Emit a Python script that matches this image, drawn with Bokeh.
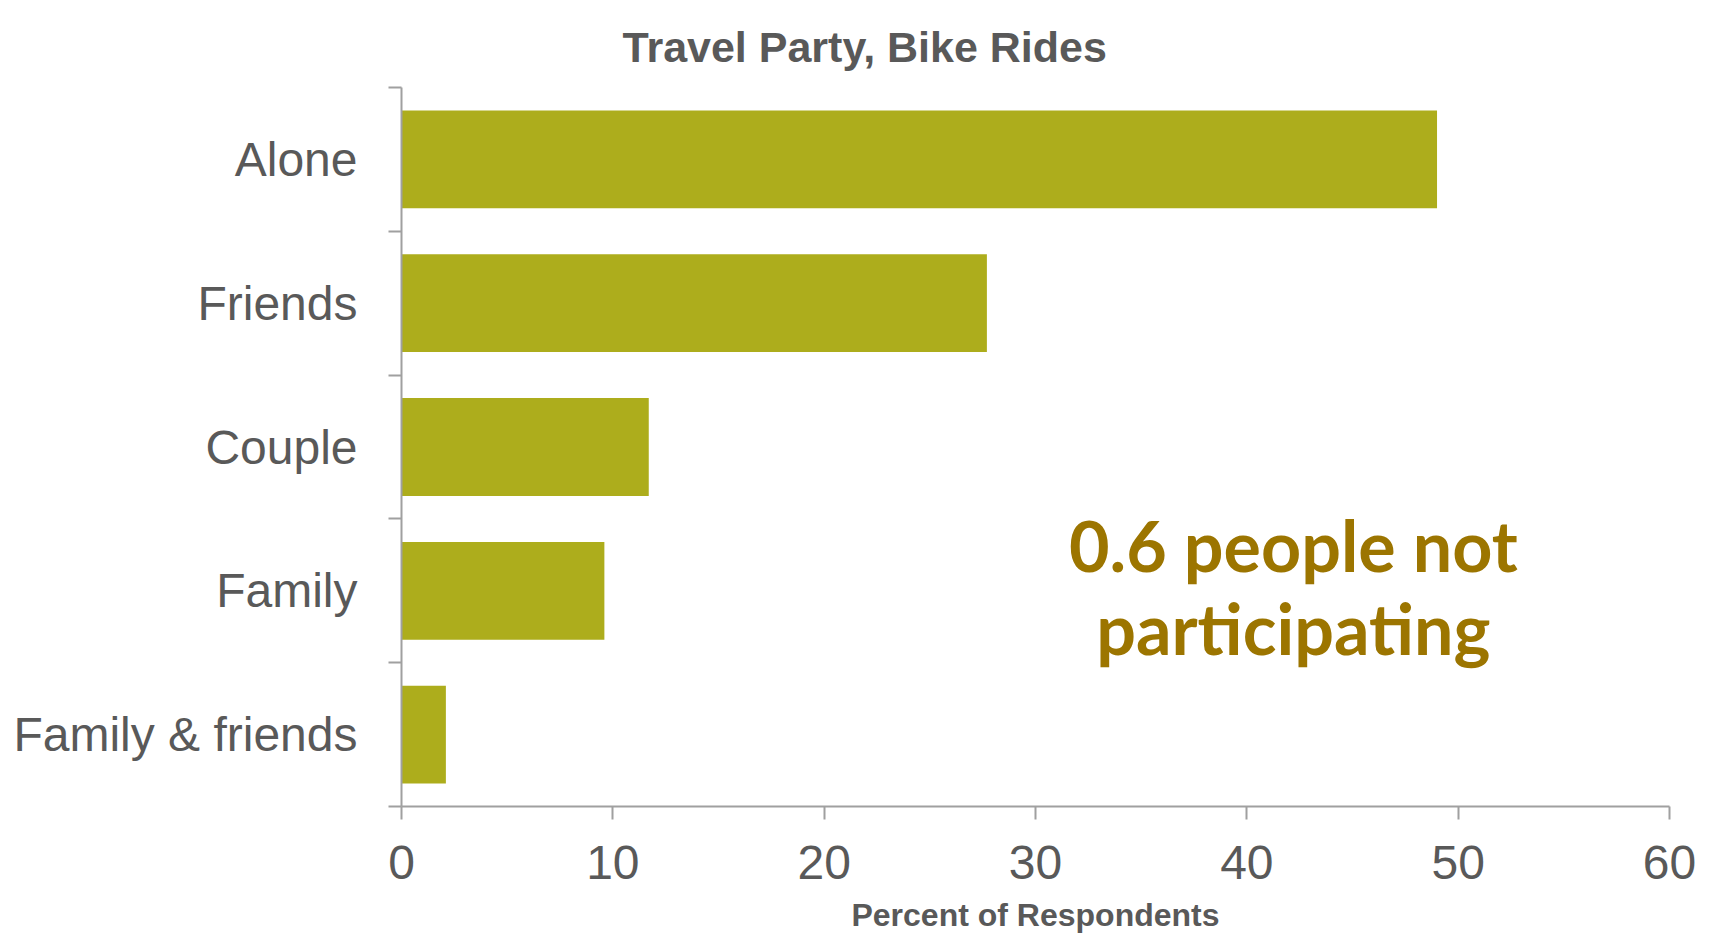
from bokeh.plotting import figure
from bokeh.models import (ColumnDataSource, FactorRange, Range1d, LinearAxis,
                          FixedTicker, Title)
from bokeh.core.properties import value
from bokeh.embed import file_html
from bokeh.resources import INLINE

# ---- data ----
categories = ["Alone", "Friends", "Couple", "Family", "Family & friends"]
percents = [49.0, 27.7, 11.7, 9.6, 2.1]
x_ticks = [0, 10, 20, 30, 40, 50, 60]
title_text = "Travel Party, Bike Rides"
x_label = "Percent of Respondents"
note_lines = ["0.6 people not", "participating"]
note_x = 42.2
note_y = [("Family", 0.32), ("Family", -0.26)]

GREY_TXT = "#595959"
AXIS_COL = "#a0a0a0"
BAR_COL = "#adad1c"
NOTE_COL = "#9c7500"
FONT = "Liberation Sans"

factors = list(reversed(categories))  # bottom to top

p = figure(width=1709, height=935, output_backend="svg", toolbar_location=None,
           x_range=Range1d(0, 60), y_range=FactorRange(factors=factors, range_padding=0, factor_padding=0),
           x_axis_location=None, y_axis_location=None,
           min_border_left=401, min_border_right=40, min_border_top=87, min_border_bottom=128)
p.outline_line_color = None
p.xgrid.grid_line_color = None
p.ygrid.grid_line_color = None
p.background_fill_color = "white"
p.border_fill_color = "white"

src = ColumnDataSource(dict(cat=categories, val=percents))
p.hbar(y="cat", right="val", left=0, height=0.68, source=src,
       fill_color=BAR_COL, line_color=None)

# annotation
nsrc = ColumnDataSource(dict(x=[note_x] * len(note_lines), y=note_y, t=note_lines))
p.text(x="x", y="y", text="t", source=nsrc, text_align="center", text_baseline="alphabetic",
       text_font=value("Lato"), text_font_style="bold", text_font_size="70px",
       text_color=NOTE_COL)

# y axis: labels at category centres, ticks (minor) at category boundaries
n = len(factors)
centres = [i + 0.5 for i in range(n)]
bounds = [float(i) for i in range(n + 1)]
yaxis = LinearAxis(ticker=FixedTicker(ticks=centres, minor_ticks=bounds),
                   major_label_overrides={c: f for c, f in zip(centres, factors)},
                   major_tick_line_color=None, major_tick_out=0, major_tick_in=0,
                   minor_tick_out=13, minor_tick_in=0,
                   minor_tick_line_color=AXIS_COL, minor_tick_line_width=2,
                   axis_line_color=AXIS_COL, axis_line_width=2,
                   major_label_standoff=31,
                   major_label_text_font=FONT, major_label_text_font_size="48px",
                   major_label_text_color=GREY_TXT)
p.add_layout(yaxis, "left")

# x axis
xaxis = LinearAxis(ticker=FixedTicker(ticks=x_ticks),
                   major_tick_out=13, major_tick_in=0, minor_tick_line_color=None,
                   axis_line_color=AXIS_COL, axis_line_width=2,
                   major_tick_line_color=AXIS_COL, major_tick_line_width=2,
                   major_label_standoff=26,
                   major_label_text_font=FONT, major_label_text_font_size="48px",
                   major_label_text_color=GREY_TXT,
                   axis_label=x_label, axis_label_standoff=15,
                   axis_label_text_font=FONT, axis_label_text_font_size="32px",
                   axis_label_text_font_style="bold", axis_label_text_color=GREY_TXT)
p.add_layout(xaxis, "below")

# chart title
t = Title(text=title_text, align="left", offset=221, standoff=33,
          text_font=FONT, text_font_size="43px", text_font_style="bold",
          text_color=GREY_TXT)
p.add_layout(t, "above")

open("out.html", "w").write(file_html(p, INLINE))
